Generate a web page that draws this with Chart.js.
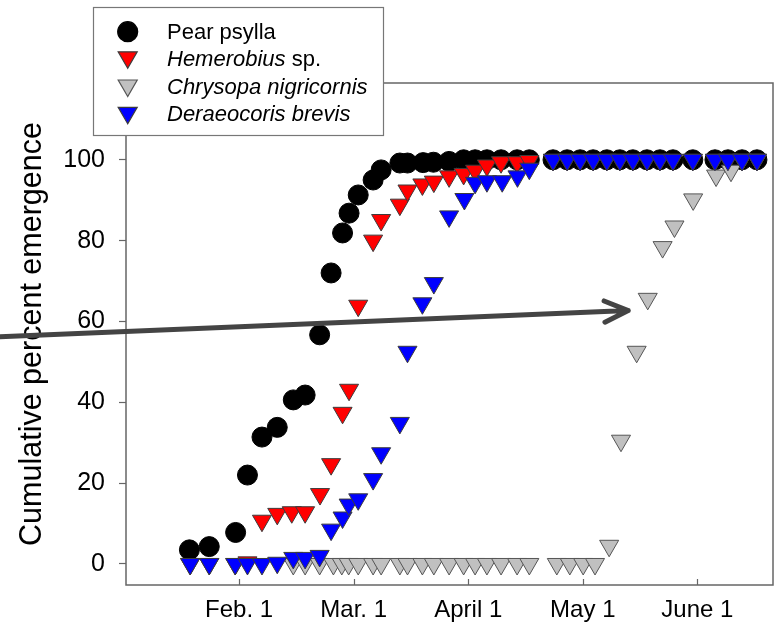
<!DOCTYPE html>
<html>
<head>
<meta charset="utf-8">
<script src="https://cdn.jsdelivr.net/npm/chart.js@4.4.1/dist/chart.umd.min.js"></script>
<style>
  body { margin: 0; background: #fff; }
  #wrap { width: 774px; height: 627px; }
</style>
</head>
<body>
<div id="wrap"><canvas id="emergence-chart" width="774" height="627"></canvas></div>
<script>
// x values are days, month ticks sit at 30, 60, 90 ...
const tick_days = [30, 60, 90, 120, 150];
const tick_labels = ['Feb. 1', 'Mar. 1', 'April 1', 'May 1', 'June 1'];
const y_ticks = [0, 20, 40, 60, 80, 100];

const psylla_days = [17.0, 22.2, 29.1, 32.2, 36.0, 40.0, 44.2, 47.3, 51.1, 54.1, 57.1, 58.8, 61.2, 65.1, 67.2, 72.1, 74.1, 78.2, 80.9, 85.0,
    88.8, 91.8, 94.9, 98.6, 102.8, 106.0, 112.2, 115.9, 119.3, 122.7, 126.3, 129.7, 133.1, 136.8, 140.2, 143.6, 148.8, 154.6, 158.0, 161.7, 165.6];
const psylla_values = [3.5, 4.3, 7.8, 22.0, 31.4, 33.8, 40.6, 41.8, 56.7, 72.0, 81.9, 86.8, 91.3, 95.0, 97.5, 99.2, 99.2, 99.3, 99.4, 99.6,
    100, 100, 100, 100, 100, 100, 100, 100, 100, 100, 100, 100, 100, 100, 100, 100, 100, 100, 100, 100, 100];

const hemerobius_days = [17.2, 22.2, 29.0, 32.2, 36.0, 40.0, 43.8, 47.3, 51.2, 54.1, 57.1, 58.8, 61.2, 65.1, 67.2, 72.1, 74.1, 78.0, 81.0, 85.0,
    88.8, 91.8, 94.9, 98.6, 102.8, 106.0, 112.2, 115.9, 119.3, 122.7, 126.3, 129.7, 133.1, 136.8, 140.2, 143.6, 148.8, 154.6, 158.0, 161.7, 165.6];
const hemerobius_values = [0, 0, 0, 0.4, 10.7, 12.4, 12.8, 12.8, 17.3, 24.7, 37.4, 43.1, 63.9, 80.0, 85.1, 88.9, 92.4, 93.9, 94.6, 95.9,
    96.5, 97.3, 98.6, 99.4, 99.4, 99.7, 100, 100, 100, 100, 100, 100, 100, 100, 100, 100, 100, 100, 100, 100, 100];

const chrysopa_days = [44.2, 47.3, 51.1, 54.7, 56.9, 58.7, 61.2, 65.1, 67.2, 72.1, 74.1, 78.0, 81.0, 85.0, 88.8, 91.8, 94.9, 98.6, 102.8, 106.0,
    113.2, 116.6, 120.1, 123.2, 126.9, 130.0, 134.1, 137.0, 140.9, 144.0, 148.9, 154.9, 158.8, 161.7, 165.6];
const chrysopa_values = [0, 0, 0, 0, 0, 0, 0, 0, 0, 0, 0, 0, 0, 0, 0, 0, 0, 0, 0, 0,
    0, 0, 0, 0, 4.5, 30.5, 52.5, 65.6, 78.4, 83.5, 90.2, 96.1, 97.3, 100, 100];

const deraeocoris_days = [17.2, 22.2, 29.0, 32.2, 36.0, 40.0, 44.2, 47.3, 51.1, 54.1, 57.1, 58.7, 61.2, 65.1, 67.2, 72.1, 74.1, 78.0, 81.0, 85.0,
    89.0, 91.8, 94.9, 98.9, 102.9, 106.0, 112.2, 115.9, 119.3, 122.7, 126.3, 129.7, 133.1, 136.8, 140.2, 143.6, 148.8, 154.6, 158.0, 161.7, 165.6];
const deraeocoris_values = [0, 0, 0, 0, 0, 0.3, 1.5, 1.5, 2.0, 8.5, 11.5, 14.7, 16.0, 21.0, 27.4, 34.9, 52.5, 64.5, 69.5, 86.0,
    90.3, 94.3, 94.7, 94.7, 95.9, 97.8, 100, 100, 100, 100, 100, 100, 100, 100, 100, 100, 100, 100, 100, 100, 100];

// arrow annotation, in data units
const arrow_from = {x: -32.6, y: 56.2};
const arrow_to = {x: 131.9, y: 62.7};

const FONT = '"Liberation Sans", Arial, sans-serif';
const EDGE = '#3c3c3c';

function to_points(days, values) {
    return days.map((d, i) => ({x: d, y: values[i]}));
}

const series = [
    {label: 'Pear psylla', days: psylla_days, values: psylla_values, style: 'circle', radius: 10, fill: '#000000', edge: '#000000', order: 4,
     text: [['Pear psylla', false]]},
    {label: 'Hemerobius sp.', days: hemerobius_days, values: hemerobius_values, style: 'triangle', radius: 11, fill: '#ff0000', edge: EDGE, order: 3,
     text: [['Hemerobius', true], [' sp.', false]]},
    {label: 'Chrysopa nigricornis', days: chrysopa_days, values: chrysopa_values, style: 'triangle', radius: 11, fill: '#c0c0c0', edge: '#555555', order: 2,
     text: [['Chrysopa nigricornis', true]]},
    {label: 'Deraeocoris brevis', days: deraeocoris_days, values: deraeocoris_values, style: 'triangle', radius: 11, fill: '#0000ff', edge: EDGE, order: 1,
     text: [['Deraeocoris brevis', true]]}
];

const data = {
    datasets: series.map(s => ({
        label: s.label,
        data: to_points(s.days, s.values),
        pointStyle: s.style,
        pointRotation: s.style === 'triangle' ? 180 : 0,
        pointRadius: s.radius,
        pointHoverRadius: s.radius,
        backgroundColor: s.fill,
        borderColor: s.edge,
        borderWidth: 1,
        showLine: false,
        order: s.order
    }))
};

const extras = {
    id: 'extras',
    beforeDatasetsDraw(chart) {
        const ctx = chart.ctx;
        const area = chart.chartArea;
        const xs = chart.scales.x;
        ctx.save();
        ctx.strokeStyle = '#666666';
        ctx.lineWidth = 1.5;
        ctx.strokeRect(area.left, area.top, area.right - area.left, area.bottom - area.top);
        // x ticks point inward
        ctx.lineWidth = 1.2;
        ctx.beginPath();
        tick_days.forEach(d => {
            const px = Math.round(xs.getPixelForValue(d)) + 0.5;
            ctx.moveTo(px, area.bottom);
            ctx.lineTo(px, area.bottom - 6);
        });
        ctx.stroke();
        ctx.restore();
    },
    afterDraw(chart) {
        const ctx = chart.ctx;
        const xs = chart.scales.x;
        const ys = chart.scales.y;
        ctx.save();

        // legend box
        ctx.fillStyle = '#ffffff';
        ctx.fillRect(93, 7, 290, 128);
        ctx.strokeStyle = '#777777';
        ctx.lineWidth = 1.2;
        ctx.strokeRect(93.5, 7.5, 290, 128);
        const marker_y = [31.7, 57.3, 85.5, 112.8];
        const text_y = [38.5, 66, 93.5, 121];
        series.forEach((s, i) => {
            ctx.fillStyle = s.fill;
            ctx.strokeStyle = s.edge;
            Chart.helpers.drawPoint(ctx, {
                pointStyle: s.style,
                rotation: s.style === 'triangle' ? 180 : 0,
                radius: s.radius,
                borderWidth: 1
            }, 127.7, marker_y[i]);
            let tx = 167;
            ctx.fillStyle = '#000000';
            ctx.textBaseline = 'alphabetic';
            s.text.forEach(([t, italic]) => {
                ctx.font = (italic ? 'italic ' : '') + '22px ' + FONT;
                ctx.fillText(t, tx, text_y[i]);
                tx += ctx.measureText(t).width;
            });
        });

        // arrow
        const x0 = xs.getPixelForValue(arrow_from.x), y0 = ys.getPixelForValue(arrow_from.y);
        const x1 = xs.getPixelForValue(arrow_to.x), y1 = ys.getPixelForValue(arrow_to.y);
        const ang = Math.atan2(y1 - y0, x1 - x0);
        const head = 26, spread = 0.42;
        ctx.strokeStyle = '#444444';
        ctx.lineWidth = 5;
        ctx.lineCap = 'round';
        ctx.lineJoin = 'round';
        ctx.beginPath();
        ctx.moveTo(x0, y0);
        ctx.lineTo(x1, y1);
        ctx.moveTo(x1 - head * Math.cos(ang - spread), y1 - head * Math.sin(ang - spread));
        ctx.lineTo(x1, y1);
        ctx.lineTo(x1 - head * Math.cos(ang + spread), y1 - head * Math.sin(ang + spread));
        ctx.stroke();
        ctx.restore();
    }
};

const options = {
    responsive: false,
    animation: false,
    layout: {autoPadding: false, padding: {top: 83, right: 1, left: 0, bottom: 0}},
    plugins: {
        legend: {display: false},
        tooltip: {enabled: false}
    },
    scales: {
        x: {
            type: 'linear',
            min: 0.4,
            max: 169.8,
            afterFit: scale => {
                scale.height = 42;
                scale.paddingLeft = 0;
                scale.paddingRight = 0;
            },
            afterBuildTicks: scale => { scale.ticks = tick_days.map(v => ({value: v})); },
            border: {display: false},
            grid: {display: true, drawOnChartArea: false, drawTicks: false},
            ticks: {
                color: '#000',
                padding: 11,
                maxRotation: 0,
                autoSkip: false,
                font: {family: FONT, size: 24},
                callback: v => tick_labels[tick_days.indexOf(v)]
            }
        },
        y: {
            type: 'linear',
            min: -5.2,
            max: 119,
            afterFit: scale => {
                scale.width = 126;
                scale.paddingTop = 0;
                scale.paddingBottom = 0;
            },
            afterBuildTicks: scale => { scale.ticks = y_ticks.map(v => ({value: v})); },
            border: {display: false},
            grid: {drawOnChartArea: false, drawTicks: true, tickLength: 7, tickColor: '#666666', tickWidth: 1.2},
            ticks: {
                color: '#000',
                padding: 14,
                font: {family: FONT, size: 25}
            },
            title: {
                display: true,
                text: 'Cumulative percent emergence',
                color: '#000',
                padding: {top: 14, bottom: 0},
                font: {family: FONT, size: 30.5}
            }
        }
    }
};

const ctx = document.getElementById('emergence-chart').getContext('2d');
const emergence_chart = new Chart(ctx, {
    type: 'scatter',
    data: data,
    options: options,
    plugins: [extras]
});
</script>
</body>
</html>
